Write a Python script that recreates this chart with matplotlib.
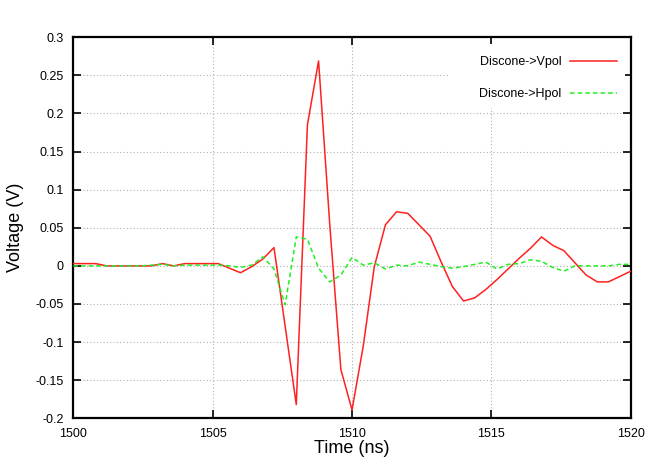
# %%
# Discone -> Vpol / Hpol pulse, voltage vs time

# %%
import matplotlib
matplotlib.use("Agg")
from matplotlib import pyplot as plt
from matplotlib.patches import Rectangle
from matplotlib.ticker import FuncFormatter

plt.rcParams['font.family'] = ['Liberation Sans', 'DejaVu Sans']

# %%
time_ns = [1500.0, 1500.4, 1500.8, 1501.2, 1501.6, 1502.0, 1502.4, 1502.8, 1503.2, 1503.6,
           1504.0, 1504.4, 1504.8, 1505.2, 1505.6, 1506.0, 1506.4, 1506.8, 1507.2, 1507.6,
           1508.0, 1508.4, 1508.8, 1509.2, 1509.6, 1510.0, 1510.4, 1510.8, 1511.2, 1511.6,
           1512.0, 1512.4, 1512.8, 1513.2, 1513.6, 1514.0, 1514.4, 1514.8, 1515.2, 1515.6,
           1516.0, 1516.4, 1516.8, 1517.2, 1517.6, 1518.0, 1518.4, 1518.8, 1519.2, 1519.6,
           1520.0]

vpol = [0.003, 0.003, 0.003, 0.0, 0.0, 0.0, 0.0, 0.0, 0.003, 0.0,
        0.003, 0.003, 0.003, 0.003, -0.003, -0.009, -0.001, 0.009, 0.024, -0.079,
        -0.182, 0.185, 0.269, 0.055, -0.136, -0.189, -0.106, -0.001, 0.054, 0.071,
        0.069, 0.054, 0.039, 0.005, -0.027, -0.046, -0.042, -0.031, -0.018, -0.004,
        0.010, 0.023, 0.038, 0.027, 0.020, 0.004, -0.012, -0.021, -0.021, -0.014,
        -0.007]

hpol = [0.0, 0.0, 0.0, 0.0, 0.0, 0.0, 0.0, 0.001, 0.002, 0.0,
        0.001, 0.001, 0.001, 0.001, 0.0, -0.002, 0.001, 0.012, -0.004, -0.051,
        0.038, 0.035, -0.003, -0.021, -0.012, 0.011, 0.001, 0.004, -0.004, 0.001,
        0.0, 0.005, 0.002, -0.001, -0.003, -0.001, 0.002, 0.005, -0.004, 0.002,
        0.003, 0.008, 0.006, -0.002, -0.007, 0.0, 0.0, 0.0, 0.0, 0.002,
        0.002]

x_ticks = [1500, 1505, 1510, 1515, 1520]
y_ticks = [-0.2, -0.15, -0.1, -0.05, 0, 0.05, 0.1, 0.15, 0.2, 0.25, 0.3]

# %%
fig = plt.figure(figsize=(6.54, 4.58), dpi=100)
ax = fig.add_axes([0.1121, 0.0867, 0.8523, 0.8319])

ax.plot(time_ns, vpol, color='#ff2020', lw=1.1, label='Discone->Vpol', zorder=3)
ax.plot(time_ns, hpol, color='#22ee22', lw=1.1, ls=(0, (3, 2)), label='Discone->Hpol', zorder=3)

ax.set_xlim(1500, 1520)
ax.set_ylim(-0.2, 0.3)
ax.set_xticks(x_ticks)
ax.set_yticks(y_ticks)
ax.yaxis.set_major_formatter(FuncFormatter(lambda v, p: '%g' % round(v, 3)))

ax.grid(True, color='#b0b0b0', ls=(0, (1, 2)), lw=0.8)
ax.tick_params(direction='in', length=6, width=1.2, top=True, right=True,
               labelsize=9, pad=7)
for s in ax.spines.values():
    s.set_linewidth(1.6)

# white area behind the key, like gnuplot does
ax.add_patch(Rectangle((0.676, 0.8144), 0.313, 0.168, transform=ax.transAxes,
                       facecolor='white', edgecolor='none', zorder=2))

ax.set_xlabel('Time (ns)', fontsize=13, labelpad=0)
ax.set_ylabel('Voltage (V)', fontsize=13, labelpad=8)

ax.legend(loc='upper right', bbox_to_anchor=(0.9754, 0.951), frameon=False,
          markerfirst=False, fontsize=9, handlelength=3.8, handletextpad=0.65,
          labelspacing=1.62, borderpad=0, borderaxespad=0)

fig.savefig('out.png', dpi=100)
